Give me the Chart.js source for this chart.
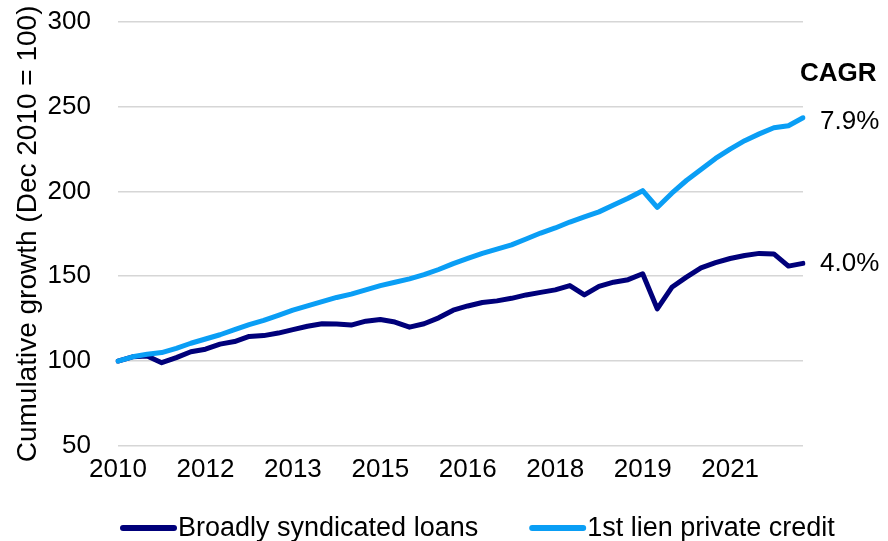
<!DOCTYPE html>
<html>
<head>
<meta charset="utf-8">
<script src="https://cdn.jsdelivr.net/npm/chart.js@4/dist/chart.umd.min.js"></script>
<style>
  html, body { margin: 0; padding: 0; background: #fff; }
  #wrap { width: 888px; height: 541px; }
</style>
</head>
<body>
<div id="wrap"><canvas id="growthChart" width="888" height="541"></canvas></div>
<script>
// quarterly index, Dec 2010 = 100
const quarters = [
  "Dec-10", "Mar-11", "Jun-11", "Sep-11", "Dec-11", "Mar-12", "Jun-12", "Sep-12", "Dec-12", "Mar-13", "Jun-13", "Sep-13",
  "Dec-13", "Mar-14", "Jun-14", "Sep-14", "Dec-14", "Mar-15", "Jun-15", "Sep-15", "Dec-15", "Mar-16", "Jun-16", "Sep-16",
  "Dec-16", "Mar-17", "Jun-17", "Sep-17", "Dec-17", "Mar-18", "Jun-18", "Sep-18", "Dec-18", "Mar-19", "Jun-19", "Sep-19",
  "Dec-19", "Mar-20", "Jun-20", "Sep-20", "Dec-20", "Mar-21", "Jun-21", "Sep-21", "Dec-21", "Mar-22", "Jun-22", "Sep-22",
];
const tickYears = ["2010", "2012", "2013", "2015", "2016", "2018", "2019", "2021"];

const syndicatedLoans = [
  100, 102.5, 103, 99, 102, 105.5, 107, 110, 111.5, 114.5, 115, 116.5,
  118.5, 120.5, 122, 121.8, 121.2, 123.5, 124.5, 123, 120, 122, 125.5, 130,
  132.5, 134.5, 135.5, 137, 139, 140.5, 142, 144.5, 139, 144, 146.5, 148,
  151.5, 130.8, 143.5, 149.5, 155, 158, 160.5, 162.3, 163.5, 163.2, 156, 157.6,
];
const privateCredit = [
  100, 102.5, 104, 105, 107.5, 110.5, 113, 115.5, 118.5, 121.5, 124, 127,
  130, 132.5, 135, 137.5, 139.5, 142, 144.5, 146.5, 148.5, 151, 154, 157.5,
  160.5, 163.5, 166, 168.5, 172, 175.5, 178.5, 182, 185, 188, 192, 196,
  200.5, 190.6, 199, 206.5, 213, 219.5, 225, 230, 234, 237.6, 238.8, 243.5,
];
const seriesNames = ["Broadly syndicated loans", "1st lien private credit"];
const cagrLabels = ["4.0%", "7.9%"];

const NAVY = "#00007a";
const SKY = "#0a9ef5";
const FONT = "'Liberation Sans', Arial, sans-serif";

// CAGR labels at the right end of each line
const cagrPlugin = {
  id: "cagr",
  afterDraw(chart) {
    const { ctx, chartArea, scales } = chart;
    const yDark = scales.y.getPixelForValue(syndicatedLoans[syndicatedLoans.length - 1]);
    const yLight = scales.y.getPixelForValue(privateCredit[privateCredit.length - 1]);
    ctx.save();
    ctx.fillStyle = "#000";
    ctx.textBaseline = "middle";
    ctx.textAlign = "left";
    ctx.font = "bold 26px " + FONT;
    ctx.fillText("CAGR", chartArea.right - 3, yLight - 44);
    ctx.font = "26px " + FONT;
    ctx.fillText(cagrLabels[1], chartArea.right + 17, yLight + 4);
    ctx.fillText(cagrLabels[0], chartArea.right + 17, yDark);
    ctx.restore();
  },
};

// legend drawn as line samples under the axis
const legendPlugin = {
  id: "lineLegend",
  afterDraw(chart) {
    const { ctx, chartArea } = chart;
    const y = 528;
    const colors = [NAVY, SKY];
    let x = chartArea.left + 2;
    ctx.save();
    ctx.font = "27px " + FONT;
    ctx.textBaseline = "middle";
    ctx.lineCap = "round";
    ctx.lineWidth = 6;
    seriesNames.forEach((name, i) => {
      ctx.strokeStyle = colors[i];
      ctx.beginPath();
      ctx.moveTo(x + 3, y);
      ctx.lineTo(x + 54, y);
      ctx.stroke();
      ctx.fillStyle = "#000";
      ctx.fillText(name, x + 58, y + 1);
      x += 58 + ctx.measureText(name).width + 51;
    });
    ctx.restore();
  },
};

new Chart(document.getElementById("growthChart"), {
  type: "line",
  data: {
    labels: quarters,
    datasets: [
      { label: seriesNames[0], data: syndicatedLoans, borderColor: NAVY, backgroundColor: NAVY, order: 1 },
      { label: seriesNames[1], data: privateCredit, borderColor: SKY, backgroundColor: SKY, order: 0 },
    ],
  },
  options: {
    responsive: false,
    animation: false,
    layout: { padding: { left: 7, right: 85, top: 22, bottom: 48 } },
    elements: {
      line: { borderWidth: 5, tension: 0, borderCapStyle: "round", borderJoinStyle: "round" },
      point: { radius: 0, hoverRadius: 0 },
    },
    plugins: { legend: { display: false }, tooltip: { enabled: false } },
    scales: {
      x: {
        offset: false,
        grid: { display: false, drawTicks: false },
        border: { display: false },
        ticks: {
          autoSkip: false,
          maxRotation: 0,
          padding: 8,
          color: "#000",
          font: { family: FONT, size: 26 },
          callback: (v, i) => (i % 6 === 0 ? tickYears[i / 6] : ""),
        },
      },
      y: {
        min: 50,
        max: 300,
        grid: { color: "#d6d6d6", lineWidth: 1.6, drawTicks: false },
        border: { display: false },
        ticks: { stepSize: 50, padding: 27, color: "#000", font: { family: FONT, size: 26 } },
        title: {
          display: true,
          text: "Cumulative growth (Dec 2010 = 100)",
          color: "#000",
          font: { family: FONT, size: 28 },
          padding: { top: 4, bottom: 4 },
        },
        afterFit: (scale) => {
          scale.width = 111;
          scale.paddingTop = 14;
          scale.paddingBottom = 14;
        },
      },
    },
  },
  plugins: [cagrPlugin, legendPlugin],
});
</script>
</body>
</html>
